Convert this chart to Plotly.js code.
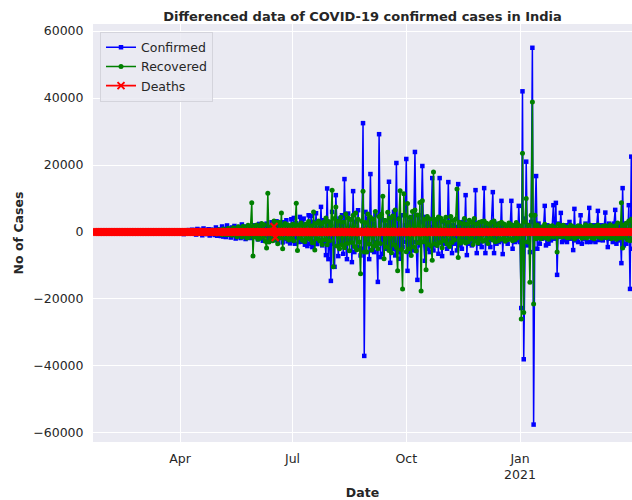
<!DOCTYPE html>
<html>
<head>
<meta charset="utf-8">
<script src="https://cdn.plot.ly/plotly-3.0.1.min.js"></script>
<style>html,body{margin:0;padding:0;background:#fff}#chart{width:632px;height:500px}</style>
</head>
<body>
<div id="chart"></div>
<script>
// Day-by-day series starting on this date (one value per day)
const startDate = [2020, 0, 22];

// Differenced daily confirmed cases
const confirmed = [
0,0,0,0,0,0,0,
0,1,-1,0,1,0,-1,
0,0,0,0,0,0,0,
0,0,0,0,0,0,0,
0,0,0,0,0,0,0,
0,0,0,0,0,2,-2,
22,-22,5,-2,3,1,5,
11,-17,18,-3,-7,29,-17,
12,15,-24,52,-37,104,-22,
61,-111,227,-49,-67,73,160,
380,-270,450,-630,320,290,-230,
570,-390,-180,680,-450,330,-770,
900,-530,-270,630,-980,1050,-450,
390,-630,830,-1050,720,-300,530,
-900,1350,-1130,750,-450,-1200,1650,
-1350,900,-1500,1950,-750,600,-1650,
1350,-900,1800,-1950,1050,-600,1500,
-1800,2250,-1050,1350,-2100,1650,-900,
1600,-1800,1300,-900,2000,-1500,800,
-2200,2400,-1300,1800,-2600,1700,-1100,
2500,-2800,1500,-1900,2900,-2300,1600,
-2400,3200,-2600,1800,-1500,2700,-3100,
2900,-2000,3500,-2800,1900,-3400,3800,
-2700,4200,-3500,2600,-1800,-3000,4500,
3200,-2900,4000,-3800,2200,-4200,5000,
-3500,4800,-4500,3000,-2800,5600,-3600,
3000,-2500,7500,-4000,3500,-3000,-6900,
13000,-8100,3000,-14600,6000,-3500,-10400,
11000,2500,-7200,4000,-3000,5000,-6500,
15800,-4000,-8100,5500,-2500,3800,-9000,
12200,-6000,3000,-4500,6500,-5000,-7000,
-5000,32500,-37000,6000,-3000,4000,-8100,
17300,-5500,2500,-6000,5000,-3000,-14900,
29200,-7500,4000,-6500,3500,-5000,2000,
-4000,15000,-9200,3000,-5000,6000,-7000,
20600,-6000,4000,-8000,5000,-4500,-3000,
2000,21800,-11600,3000,-6000,4500,-5500,
1000,23900,-3000,-14300,5000,-4000,3000,
19700,-3000,-8600,4500,-5000,3000,-6000,
1500,16100,-5500,2500,-4000,3500,-6500,
16100,-3000,-7200,3000,-3500,2500,-5000,
14900,-2500,1500,-6300,2000,-3500,1500,
-5500,14300,-4000,2500,-5000,3000,-2500,
11000,-6900,2000,-3500,1500,-4000,3000,
-2000,12500,-6300,2500,-3500,2000,-4500,
1000,13100,-6300,2000,-3000,1500,-4500,
2000,11900,-6300,2500,-3500,1000,-3000,
-2500,9300,-6600,2000,-2500,1500,-3500,
500,1500,9300,-5000,2000,-3000,1500,
-2500,7800,-3000,-22700,42000,-38000,4000,
21000,-4000,2000,-6000,3000,55000,-57500,
2000,16700,-5000,2500,-3500,1500,-2000,
1000,7800,-4000,2000,-3500,1000,-2500,
1500,8000,-2000,8700,-12800,2500,-1500,
5700,-3000,1500,-2500,2000,-3000,1000,
3000,-2000,1500,-5400,6900,-2500,1000,
-3000,1500,5000,-3500,1000,-2000,2500,
-3000,1000,7200,-3000,1500,-2500,2000,
-3000,1500,6300,-2400,-1500,2000,-2500,
1000,5800,-1500,-4500,2500,-2000,1500,
-3000,2500,6600,-3500,1500,-2500,2000,
-9300,13100,-4000,2500,-3500,-2000,8000,
-17000,22500,-5000
];

// Differenced daily recovered cases
const recovered = [
0,0,0,0,0,0,0,
0,0,0,0,0,0,0,
0,0,0,0,0,0,0,
0,1,-1,0,0,0,0,
0,0,0,0,0,0,0,
0,0,0,0,0,0,0,
0,0,0,0,0,0,0,
0,4,-4,3,1,-4,2,
3,-5,10,-8,6,7,-12,
5,12,-8,20,-15,40,-30,
25,40,-35,60,-50,90,-40,
120,-80,100,-60,150,-120,200,
-150,180,-90,250,-200,300,-180,
220,-300,400,-250,350,-420,500,
-380,450,-600,700,-300,550,-800,
900,-650,400,-800,1100,-700,600,
-1000,1300,-600,900,-1400,1600,-700,
1100,-1500,1700,-900,1200,-1800,2000,
-1600,1500,8700,-7200,1800,-1400,2100,
-2200,1600,-1900,2500,-1500,2200,-2800,
-4800,11600,-3000,-2500,1800,-2600,3300,
-2100,2800,-3500,2900,-1800,5700,-5000,
1800,2500,-1900,2200,-2400,1700,-2100,
2300,-2600,1800,8600,-5500,2100,-1700,
2700,-2500,1600,-2900,2400,-1800,3100,
-2200,1900,-3200,6000,-5400,2600,-2000,
3300,-2700,2400,-3700,2900,-2300,4200,
-3800,3100,-2600,2000,12500,-10400,4000,
7500,-4200,3200,-5000,4400,-3800,2900,
-4700,5400,-3400,4200,-5600,3700,-3100,
5000,-4300,5700,-5300,3800,-3000,-12500,
3200,12200,-6000,2800,-6000,5400,-3600,
4400,-5400,3800,-4200,6100,-3300,-5000,
4600,-3400,5300,10700,-8000,3400,-4500,
5900,-5500,4200,-6200,4800,-3800,6600,
-4600,-11600,3900,12300,-5200,-17000,11400,
5000,-5900,8500,-5000,4300,-7000,6100,
-4500,6600,-5700,5100,-3200,8800,-17600,
9300,-2900,3800,-11300,4600,-3700,3900,
-4200,-8400,17900,-3500,3700,-4000,4500,
-3100,4100,-4700,3300,-2600,4400,-3500,
2900,-4300,4600,-3100,3400,-2400,3900,
12800,-7600,2900,-3300,2500,-2800,4000,
-3300,2400,-2900,3500,-2200,2800,-3700,
4000,-2700,2400,-3300,2900,-2100,3100,
-2800,3300,-2400,2600,-3400,2300,-1900,
2900,-2400,3300,-2900,2100,-2700,2500,
-2200,2900,-2000,2400,-2800,1900,-2300,
2700,-2100,2200,-2600,1800,-2300,2800,
-1700,2000,1500,-26000,23500,-24000,3000,
10000,-3000,2000,-15000,5000,38800,-21500,
5000,-2000,2100,-1700,1200,-2000,1500,
-1400,2300,-1800,1300,-2200,1700,-1200,
1900,-1600,1400,1000,-6000,2300,-1300,
1800,-1500,2000,-1200,1500,-1700,1300,
-1700,2000,-1200,1600,-2100,1300,-1500,
1900,-1300,1700,-1900,1200,-1500,2200,
-1800,1400,-1200,2000,-1700,1500,-2000,
1700,-1300,2100,-1600,1300,-1900,1700,
-1400,1900,-1700,1500,-1200,2200,-2000,
1600,-1500,1800,-2200,2700,-1800,-1700,
8700,-4800,2100,-1600,2600,-2300,3300,
-2600,3800,-2000
];

// Differenced daily deaths
const deaths = [
0,0,0,0,0,0,0,
0,0,0,0,0,0,0,
0,0,0,0,0,0,0,
0,0,0,0,0,0,0,
0,0,0,0,0,0,0,
0,0,0,0,0,0,0,
0,0,0,0,0,0,0,
0,0,0,1,-1,0,0,
1,-1,2,-1,1,3,-2,
4,-2,3,2,-4,6,10,
-8,12,-4,9,-10,14,-6,
18,-12,9,-7,20,-14,11,
25,-19,14,-10,22,-17,8,
-12,28,-20,15,-9,31,-24,
40,-30,22,55,-60,35,-18,
26,-32,41,-25,18,-36,30,
-22,38,-29,45,-40,27,-19,
33,-27,41,-35,24,-30,46,
-38,52,-44,36,-29,47,-50,
41,-35,58,-46,39,-52,44,
-48,62,-55,43,-36,54,1650,
-1640,70,-52,48,-61,55,-44,
66,-58,72,-49,53,-67,75,
-62,84,-70,58,-77,91,-80,
68,-85,96,-74,83,-90,72,
-88,105,-92,79,-101,110,-95,
45,-60,82,-38,25,-71,64,
110,-95,48,-120,86,-54,-70,
130,-88,-45,92,-110,76,-58,
95,-40,-85,120,-66,38,-90,
140,-75,52,-98,115,-60,-82,
-45,160,-130,72,-55,88,-105,
125,-70,40,-95,110,-58,-120,
150,-82,64,-110,75,-48,30,
-60,135,-98,55,-80,92,-115,
170,-90,48,-125,102,-66,-40,
35,180,-140,62,-95,80,-72,
25,155,-60,-150,95,-70,48,
120,-45,-110,85,-92,60,-88,
30,110,-95,52,-70,64,-102,
98,-40,-85,58,-62,45,-76,
90,-35,28,-80,42,-55,30,
-68,85,-52,36,-60,44,-30,
70,-75,32,-48,26,-55,40,
-30,78,-64,35,-42,28,-50,
22,65,-58,30,-38,25,-45,
28,60,-52,33,-35,20,-40,
-25,55,-48,26,-30,18,-36,
10,22,50,-44,24,-28,15,
-32,45,-20,-38,52,-40,18,
30,-25,16,-34,20,42,-48,
15,28,-30,18,-22,12,-20,
8,32,-26,14,-18,10,-15,
12,25,-10,22,-35,16,-8,
20,-14,9,-12,15,-18,6,
14,-10,8,-20,24,-12,7,
-15,9,18,-14,6,-10,12,
-12,8,22,-15,9,-11,13,
-14,10,20,-12,-8,11,-9,
6,18,-7,-16,12,-10,8,
-13,11,21,-16,8,-12,10,
-24,30,-14,10,-12,-8,22,
-30,38,-12
];

// Axis tick labels
const xTickDates = ['2020-04-01', '2020-07-01', '2020-10-01', '2021-01-01'];
const xTickLabels = ['Apr', 'Jul', 'Oct', 'Jan<br>2021'];
const yTickValues = [-60000, -40000, -20000, 0, 20000, 40000, 60000];
const yTickLabels = ['\u221260000', '\u221240000', '\u221220000', '0', '20000', '40000', '60000'];

const dates = confirmed.map((_, i) => {
  const d = new Date(Date.UTC(startDate[0], startDate[1], startDate[2] + i));
  return d.toISOString().slice(0, 10);
});

const FONT = 'DejaVu Sans, sans-serif';
const TXT = '#262626';

const traces = [
  {x: dates, y: confirmed, name: 'Confirmed', type: 'scatter', mode: 'lines+markers',
   line: {color: '#0000ff', width: 1.5}, marker: {symbol: 'square', size: 4.5, color: '#0000ff'}},
  {x: dates, y: recovered, name: 'Recovered', type: 'scatter', mode: 'lines+markers',
   line: {color: '#008000', width: 1.5}, marker: {symbol: 'circle', size: 5, color: '#008000'}},
  {x: dates, y: deaths, name: 'Deaths', type: 'scatter', mode: 'lines+markers',
   line: {color: '#ff0000', width: 1.8},
   marker: {symbol: 'x-thin', size: 7, color: '#ff0000', line: {color: '#ff0000', width: 2}}}
];

const layout = {
  width: 632, height: 500,
  margin: {l: 93, r: 0, t: 24, b: 58, pad: 0},
  paper_bgcolor: '#ffffff',
  plot_bgcolor: '#eaeaf2',
  font: {family: FONT, size: 12.5, color: TXT},
  title: {text: '<b>Differenced data of COVID-19 confirmed cases in India</b>',
          font: {family: FONT, size: 13, color: TXT},
          x: 0.5, xref: 'paper', xanchor: 'center', y: 0.968, yref: 'container', yanchor: 'middle'},
  xaxis: {type: 'date', range: ['2020-01-21 14:00', '2021-04-01 14:00'],
          tickvals: xTickDates, ticktext: xTickLabels,
          showgrid: true, gridcolor: '#ffffff', gridwidth: 1, zeroline: false, showline: false,
          ticks: 'outside', ticklen: 5, tickcolor: 'rgba(0,0,0,0)',
          tickfont: {family: FONT, size: 12.5, color: TXT},
          title: {text: '<b>Date</b>', font: {family: FONT, size: 12.5, color: TXT}, standoff: 6}},
  yaxis: {range: [-62700, 62100],
          tickvals: yTickValues, ticktext: yTickLabels,
          showgrid: true, gridcolor: '#ffffff', gridwidth: 1, zeroline: false, showline: false,
          ticks: 'outside', ticklen: 6, tickcolor: 'rgba(0,0,0,0)',
          tickfont: {family: FONT, size: 12.5, color: TXT},
          title: {text: '<b>No of Cases</b>', font: {family: FONT, size: 12.5, color: TXT}, standoff: 6}},
  showlegend: true,
  legend: {x: 0.013, y: 0.982, xanchor: 'left', yanchor: 'top',
           bgcolor: 'rgba(234,234,242,0.85)', bordercolor: '#d4d4dc', borderwidth: 1,
           font: {family: FONT, size: 12.5, color: TXT}, tracegroupgap: 0}
};

Plotly.newPlot('chart', traces, layout, {displayModeBar: false, staticPlot: true});
</script>
</body>
</html>
